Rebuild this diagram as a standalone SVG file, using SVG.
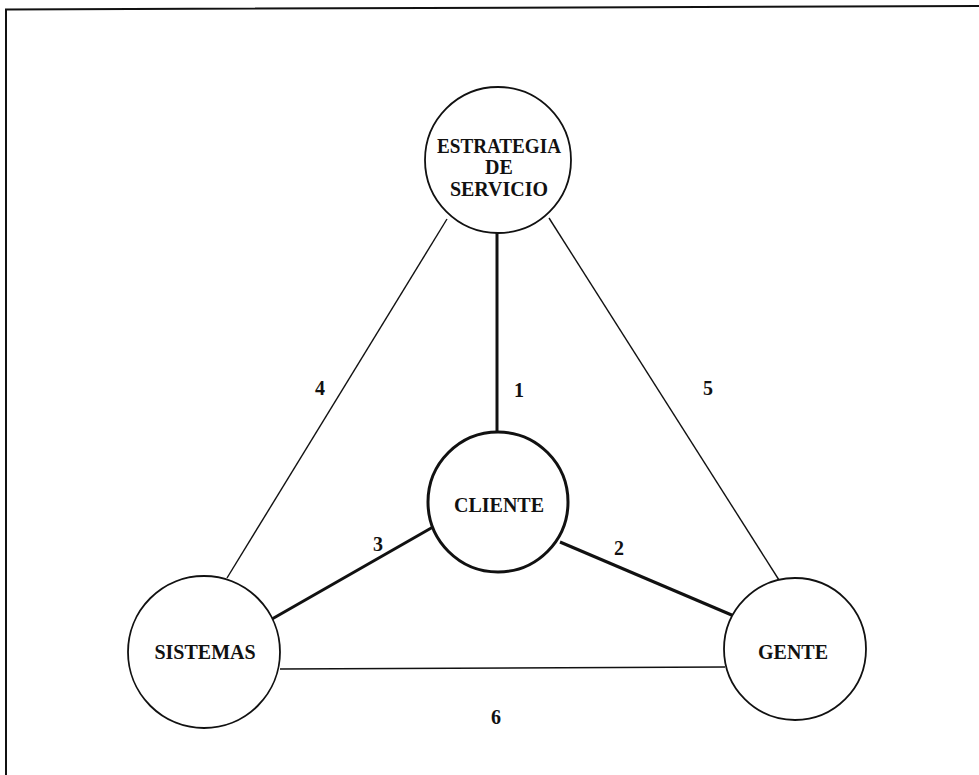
<svg xmlns="http://www.w3.org/2000/svg" width="979" height="775" viewBox="0 0 979 775">
<style>
.node{fill:#fff;stroke:#111;stroke-width:1.8}
.node.main{stroke-width:3}
.lbl{font-family:"Liberation Serif","Times New Roman",serif;font-weight:bold;font-size:20px;fill:#111;text-anchor:middle}
.num{font-family:"Liberation Serif","Times New Roman",serif;font-weight:bold;font-size:20px;fill:#111;text-anchor:middle}
.thin{stroke:#111;stroke-width:1.4;fill:none}
.thick{stroke:#111;stroke-width:3;fill:none}
</style>
<rect width="979" height="775" fill="#fff"/>
<polyline points="979,6 6,9.5 6,775" fill="none" stroke="#111" stroke-width="2"/>
<g id="connectors">
<line class="thick" x1="497" y1="233" x2="497" y2="432"/>
<line class="thick" x1="560" y1="542" x2="734" y2="616"/>
<line class="thick" x1="433" y1="527" x2="272" y2="619"/>
<line class="thin" x1="447" y1="219" x2="227" y2="578"/>
<line class="thin" x1="549" y1="218" x2="779" y2="580"/>
<line class="thin" x1="280" y1="669" x2="725" y2="667"/>
<text class="num" x="519" y="397">1</text>
<text class="num" x="619" y="555">2</text>
<text class="num" x="378" y="551">3</text>
<text class="num" x="320" y="395">4</text>
<text class="num" x="708" y="395">5</text>
<text class="num" x="496" y="724">6</text>
</g>
<g id="estrategia">
<circle class="node" cx="498" cy="160" r="73"/>
<text class="lbl" x="499" y="153" textLength="124" lengthAdjust="spacingAndGlyphs">ESTRATEGIA</text>
<text class="lbl" x="499" y="174">DE</text>
<text class="lbl" x="499" y="196">SERVICIO</text>
</g>
<g id="cliente">
<circle class="node main" cx="498" cy="502" r="70"/>
<text class="lbl" x="499" y="512">CLIENTE</text>
</g>
<g id="sistemas">
<circle class="node" cx="204" cy="652" r="76"/>
<text class="lbl" x="205" y="659">SISTEMAS</text>
</g>
<g id="gente">
<circle class="node" cx="795" cy="649" r="71"/>
<text class="lbl" x="793" y="659">GENTE</text>
</g>
</svg>
